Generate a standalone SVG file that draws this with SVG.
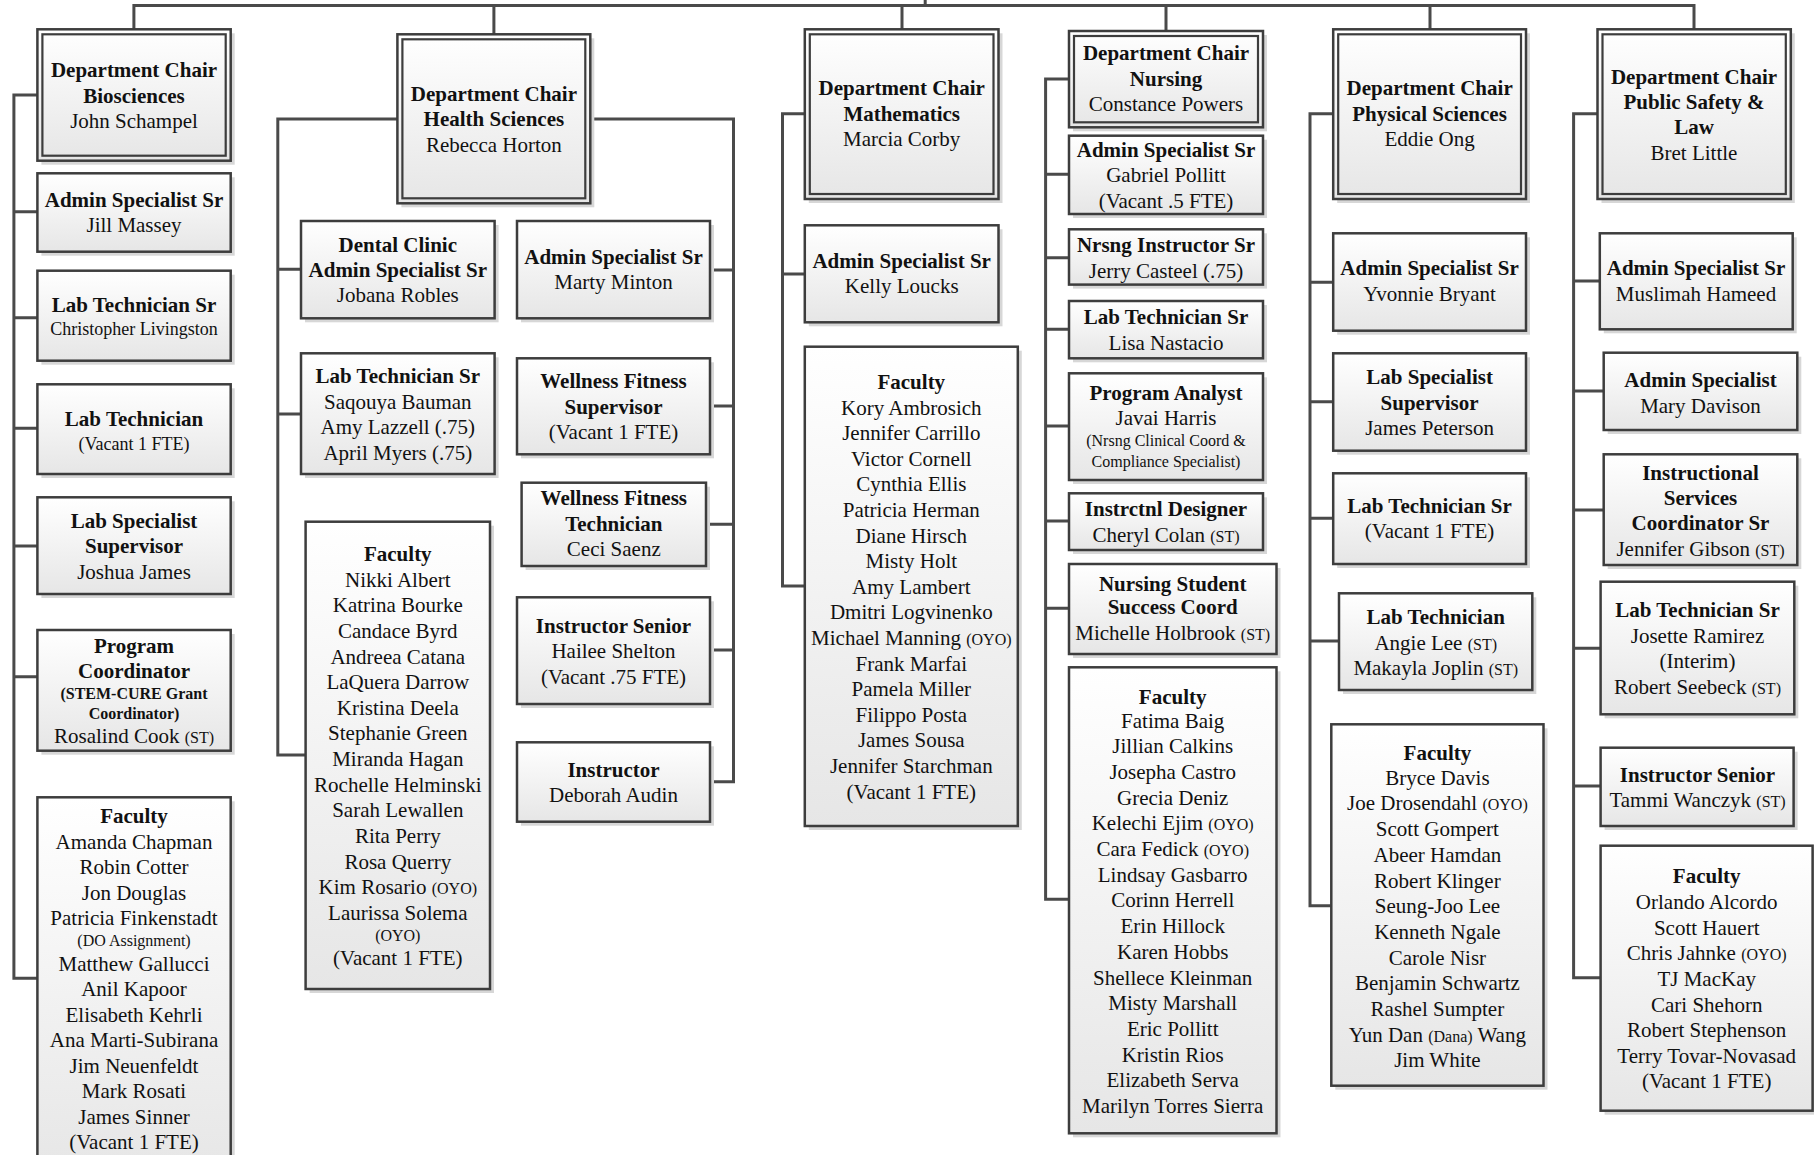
<svg xmlns="http://www.w3.org/2000/svg" width="1814" height="1155" viewBox="0 0 1814 1155">
<defs>
<linearGradient id="g" x1="0" y1="0" x2="0" y2="1">
<stop offset="0" stop-color="#ffffff"/>
<stop offset="1" stop-color="#e6e6e6"/>
</linearGradient>
</defs>
<style>
.sh{fill:#d7d7d7}
.box{fill:url(#g);stroke:#3d3d3d;stroke-width:2.5}
.in{fill:none;stroke:#3d3d3d;stroke-width:2.2}
.ln{fill:none;stroke:#4a4a4a;stroke-width:3;stroke-linejoin:miter}
text{font-family:"Liberation Serif","Times New Roman",serif;fill:#111111;text-anchor:middle;font-size:21px}
.b{font-weight:bold}
.m{font-size:18px}
.s{font-size:16px}
</style>
<rect width="1814" height="1155" fill="#ffffff"/>

<g id="connectors">
<path class="ln" d="M133.9,29.3V5.5H1694V29.3 M493.9,5.5V34.3 M902,5.5V29.3 M1166,5.5V31 M1430,5.5V29.3 M925.2,0V5.5"/>
<path class="ln" d="M37.4,95H13.9V978.3H37.4 M13.9,211.7H37.4 M13.9,317.7H37.4 M13.9,428.3H37.4 M13.9,546H37.4 M13.9,676.7H37.4"/>
<path class="ln" d="M397.4,119H277.8V755H305.6 M277.8,269.3H301 M277.8,414H301"/>
<path class="ln" d="M590.3,119H733.5V781.7H710 M733.5,270H710 M733.5,406H710 M733.5,524.3H706 M733.5,650H710"/>
<path class="ln" d="M804.8,113.7H782.5V586H804.8 M782.5,274H804.8"/>
<path class="ln" d="M1069,79H1045.6V899.3H1069 M1045.6,174.3H1069 M1045.6,257.7H1069 M1045.6,329.3H1069 M1045.6,426H1069 M1045.6,521H1069 M1045.6,608.3H1069"/>
<path class="ln" d="M1333.2,113.7H1310V905.7H1331.3 M1310,282.3H1333.2 M1310,401.7H1333.2 M1310,518.3H1333.2 M1310,641H1339"/>
<path class="ln" d="M1597.5,113.7H1573.6V977.7H1600.6 M1573.6,281H1599.8 M1573.6,391H1603.7 M1573.6,510H1603.7 M1573.6,648.3H1600.6 M1573.6,786H1600.6"/>
</g>

<!-- Biosciences -->
<g id="bio-chair">
<rect class="sh" x="41.4" y="33.3" width="193.3" height="131.4"/>
<rect class="box" x="37.4" y="29.3" width="193.3" height="131.4"/>
<rect class="in" x="42.4" y="34.3" width="183.3" height="121.4"/>
<text><tspan class="b" x="134" y="77">Department Chair</tspan><tspan class="b" x="134" y="102.5">Biosciences</tspan><tspan x="134" y="128">John Schampel</tspan></text>
</g>
<g id="bio-admin">
<rect class="sh" x="41.4" y="177.3" width="193.3" height="78.4"/>
<rect class="box" x="37.4" y="173.3" width="193.3" height="78.4"/>
<text><tspan class="b" x="134" y="206.5">Admin Specialist Sr</tspan><tspan x="134" y="232">Jill Massey</tspan></text>
</g>
<g id="bio-labtechsr">
<rect class="sh" x="41.4" y="274.7" width="193.3" height="90"/>
<rect class="box" x="37.4" y="270.7" width="193.3" height="90"/>
<text><tspan class="b" x="134" y="311.5">Lab Technician Sr</tspan><tspan class="m" x="134" y="335">Christopher Livingston</tspan></text>
</g>
<g id="bio-labtech">
<rect class="sh" x="41.4" y="388.3" width="193.3" height="89.7"/>
<rect class="box" x="37.4" y="384.3" width="193.3" height="89.7"/>
<text><tspan class="b" x="134" y="425.5">Lab Technician</tspan><tspan class="m" x="134" y="449.5">(Vacant 1 FTE)</tspan></text>
</g>
<g id="bio-labspec">
<rect class="sh" x="41.4" y="501.3" width="193.3" height="96.7"/>
<rect class="box" x="37.4" y="497.3" width="193.3" height="96.7"/>
<text><tspan class="b" x="134" y="527.5">Lab Specialist</tspan><tspan class="b" x="134" y="553">Supervisor</tspan><tspan x="134" y="578.5">Joshua James</tspan></text>
</g>
<g id="bio-progcoord">
<rect class="sh" x="41.4" y="634" width="193.3" height="120.7"/>
<rect class="box" x="37.4" y="630" width="193.3" height="120.7"/>
<text><tspan class="b" x="134" y="652.5">Program</tspan><tspan class="b" x="134" y="677.5">Coordinator</tspan><tspan class="b s" x="134" y="698.5">(STEM-CURE Grant</tspan><tspan class="b s" x="134" y="718.5">Coordinator)</tspan><tspan x="134" y="742.5">Rosalind Cook <tspan class="s">(ST)</tspan></tspan></text>
</g>
<g id="bio-faculty">
<rect class="sh" x="41.4" y="801.3" width="193.3" height="380"/>
<rect class="box" x="37.4" y="797.3" width="193.3" height="380"/>
<text><tspan class="b" x="134" y="823">Faculty</tspan><tspan x="134" y="848.5">Amanda Chapman</tspan><tspan x="134" y="874">Robin Cotter</tspan><tspan x="134" y="899.5">Jon Douglas</tspan><tspan x="134" y="925">Patricia Finkenstadt</tspan><tspan class="s" x="134" y="946">(DO Assignment)</tspan><tspan x="134" y="970.5">Matthew Gallucci</tspan><tspan x="134" y="996">Anil Kapoor</tspan><tspan x="134" y="1021.5">Elisabeth Kehrli</tspan><tspan x="134" y="1047">Ana Marti-Subirana</tspan><tspan x="134" y="1072.5">Jim Neuenfeldt</tspan><tspan x="134" y="1098">Mark Rosati</tspan><tspan x="134" y="1123.5">James Sinner</tspan><tspan x="134" y="1149">(Vacant 1 FTE)</tspan></text>
</g>

<!-- Health Sciences -->
<g id="hs-chair">
<rect class="sh" x="401.4" y="38.3" width="192.9" height="169"/>
<rect class="box" x="397.4" y="34.3" width="192.9" height="169"/>
<rect class="in" x="402.4" y="39.3" width="182.9" height="159"/>
<text><tspan class="b" x="493.9" y="100.5">Department Chair</tspan><tspan class="b" x="493.9" y="126">Health Sciences</tspan><tspan x="493.9" y="151.5">Rebecca Horton</tspan></text>
</g>
<g id="hs-dental">
<rect class="sh" x="305" y="225" width="193.6" height="97.3"/>
<rect class="box" x="301" y="221" width="193.6" height="97.3"/>
<text><tspan class="b" x="397.8" y="252">Dental Clinic</tspan><tspan class="b" x="397.8" y="277">Admin Specialist Sr</tspan><tspan x="397.8" y="301.5">Jobana Robles</tspan></text>
</g>
<g id="hs-labtechsr">
<rect class="sh" x="305" y="357.3" width="193.6" height="120.7"/>
<rect class="box" x="301" y="353.3" width="193.6" height="120.7"/>
<text><tspan class="b" x="397.8" y="383">Lab Technician Sr</tspan><tspan x="397.8" y="408.5">Saqouya Bauman</tspan><tspan x="397.8" y="434">Amy Lazzell (.75)</tspan><tspan x="397.8" y="459.5">April Myers (.75)</tspan></text>
</g>
<g id="hs-faculty">
<rect class="sh" x="309.6" y="525.7" width="184.4" height="467.3"/>
<rect class="box" x="305.6" y="521.7" width="184.4" height="467.3"/>
<text><tspan class="b" x="397.8" y="560.5">Faculty</tspan><tspan x="397.8" y="586.5">Nikki Albert</tspan><tspan x="397.8" y="612.2">Katrina Bourke</tspan><tspan x="397.8" y="637.8">Candace Byrd</tspan><tspan x="397.8" y="663.5">Andreea Catana</tspan><tspan x="397.8" y="689.1">LaQuera Darrow</tspan><tspan x="397.8" y="714.8">Kristina Deela</tspan><tspan x="397.8" y="740.4">Stephanie Green</tspan><tspan x="397.8" y="766">Miranda Hagan</tspan><tspan x="397.8" y="791.7">Rochelle Helminski</tspan><tspan x="397.8" y="817.3">Sarah Lewallen</tspan><tspan x="397.8" y="843">Rita Perry</tspan><tspan x="397.8" y="868.6">Rosa Querry</tspan><tspan x="397.8" y="894.3">Kim Rosario <tspan class="s">(OYO)</tspan></tspan><tspan x="397.8" y="920">Laurissa Solema</tspan><tspan class="s" x="397.8" y="941">(OYO)</tspan><tspan x="397.8" y="964.5">(Vacant 1 FTE)</tspan></text>
</g>
<g id="hs-admin">
<rect class="sh" x="521" y="225" width="193" height="97.3"/>
<rect class="box" x="517" y="221" width="193" height="97.3"/>
<text><tspan class="b" x="613.5" y="263.5">Admin Specialist Sr</tspan><tspan x="613.5" y="289">Marty Minton</tspan></text>
</g>
<g id="hs-wellsup">
<rect class="sh" x="521" y="362.3" width="193" height="96"/>
<rect class="box" x="517" y="358.3" width="193" height="96"/>
<text><tspan class="b" x="613.5" y="388">Wellness Fitness</tspan><tspan class="b" x="613.5" y="413.5">Supervisor</tspan><tspan x="613.5" y="439">(Vacant 1 FTE)</tspan></text>
</g>
<g id="hs-welltech">
<rect class="sh" x="525.6" y="486.7" width="184.4" height="83.3"/>
<rect class="box" x="521.6" y="482.7" width="184.4" height="83.3"/>
<text><tspan class="b" x="613.8" y="505">Wellness Fitness</tspan><tspan class="b" x="613.8" y="530.5">Technician</tspan><tspan x="613.8" y="556">Ceci Saenz</tspan></text>
</g>
<g id="hs-instsr">
<rect class="sh" x="521" y="601.3" width="193" height="106.7"/>
<rect class="box" x="517" y="597.3" width="193" height="106.7"/>
<text><tspan class="b" x="613.5" y="632.5">Instructor Senior</tspan><tspan x="613.5" y="658">Hailee Shelton</tspan><tspan x="613.5" y="684">(Vacant .75 FTE)</tspan></text>
</g>
<g id="hs-instr">
<rect class="sh" x="521" y="746.3" width="193" height="79.4"/>
<rect class="box" x="517" y="742.3" width="193" height="79.4"/>
<text><tspan class="b" x="613.5" y="777">Instructor</tspan><tspan x="613.5" y="802">Deborah Audin</tspan></text>
</g>

<!-- Mathematics -->
<g id="math-chair">
<rect class="sh" x="808.8" y="33.3" width="193.7" height="169.7"/>
<rect class="box" x="804.8" y="29.3" width="193.7" height="169.7"/>
<rect class="in" x="809.8" y="34.3" width="183.7" height="159.7"/>
<text><tspan class="b" x="901.7" y="95">Department Chair</tspan><tspan class="b" x="901.7" y="120.5">Mathematics</tspan><tspan x="901.7" y="146">Marcia Corby</tspan></text>
</g>
<g id="math-admin">
<rect class="sh" x="808.8" y="229.3" width="193.7" height="97"/>
<rect class="box" x="804.8" y="225.3" width="193.7" height="97"/>
<text><tspan class="b" x="901.7" y="267.5">Admin Specialist Sr</tspan><tspan x="901.7" y="293">Kelly Loucks</tspan></text>
</g>
<g id="math-faculty">
<rect class="sh" x="808.8" y="350.7" width="213" height="479.3"/>
<rect class="box" x="804.8" y="346.7" width="213" height="479.3"/>
<text><tspan class="b" x="911.3" y="388.5">Faculty</tspan><tspan x="911.3" y="414.5">Kory Ambrosich</tspan><tspan x="911.3" y="440">Jennifer Carrillo</tspan><tspan x="911.3" y="465.7">Victor Cornell</tspan><tspan x="911.3" y="491.3">Cynthia Ellis</tspan><tspan x="911.3" y="516.9">Patricia Herman</tspan><tspan x="911.3" y="542.5">Diane Hirsch</tspan><tspan x="911.3" y="568">Misty Holt</tspan><tspan x="911.3" y="593.7">Amy Lambert</tspan><tspan x="911.3" y="619.3">Dmitri Logvinenko</tspan><tspan x="911.3" y="645">Michael Manning <tspan class="s">(OYO)</tspan></tspan><tspan x="911.3" y="670.5">Frank Marfai</tspan><tspan x="911.3" y="696">Pamela Miller</tspan><tspan x="911.3" y="721.8">Filippo Posta</tspan><tspan x="911.3" y="747.4">James Sousa</tspan><tspan x="911.3" y="773">Jennifer Starchman</tspan><tspan x="911.3" y="798.6">(Vacant 1 FTE)</tspan></text>
</g>

<!-- Nursing -->
<g id="nur-chair">
<rect class="sh" x="1073" y="35" width="194" height="96.3"/>
<rect class="box" x="1069" y="31" width="194" height="96.3"/>
<rect class="in" x="1074" y="36" width="184" height="86.3"/>
<text><tspan class="b" x="1166" y="60">Department Chair</tspan><tspan class="b" x="1166" y="85.5">Nursing</tspan><tspan x="1166" y="111">Constance Powers</tspan></text>
</g>
<g id="nur-admin">
<rect class="sh" x="1073" y="139.7" width="194" height="78.3"/>
<rect class="box" x="1069" y="135.7" width="194" height="78.3"/>
<text><tspan class="b" x="1166" y="156.5">Admin Specialist Sr</tspan><tspan x="1166" y="182">Gabriel Pollitt</tspan><tspan x="1166" y="207.5">(Vacant .5 FTE)</tspan></text>
</g>
<g id="nur-instr">
<rect class="sh" x="1073" y="233.3" width="194" height="55.3"/>
<rect class="box" x="1069" y="229.3" width="194" height="55.3"/>
<text><tspan class="b" x="1166" y="251.5">Nrsng Instructor Sr</tspan><tspan x="1166" y="277.5">Jerry Casteel (.75)</tspan></text>
</g>
<g id="nur-labtech">
<rect class="sh" x="1073" y="305" width="194" height="57.3"/>
<rect class="box" x="1069" y="301" width="194" height="57.3"/>
<text><tspan class="b" x="1166" y="323.5">Lab Technician Sr</tspan><tspan x="1166" y="349.5">Lisa Nastacio</tspan></text>
</g>
<g id="nur-progan">
<rect class="sh" x="1073" y="377.3" width="194" height="106.7"/>
<rect class="box" x="1069" y="373.3" width="194" height="106.7"/>
<text><tspan class="b" x="1166" y="399.5">Program Analyst</tspan><tspan x="1166" y="425">Javai Harris</tspan><tspan class="s" x="1166" y="445.5">(Nrsng Clinical Coord &amp;</tspan><tspan class="s" x="1166" y="466.5">Compliance Specialist)</tspan></text>
</g>
<g id="nur-designer">
<rect class="sh" x="1073" y="497.3" width="194" height="56.7"/>
<rect class="box" x="1069" y="493.3" width="194" height="56.7"/>
<text><tspan class="b" x="1166" y="516">Instrctnl Designer</tspan><tspan x="1166" y="541.5">Cheryl Colan <tspan class="s">(ST)</tspan></tspan></text>
</g>
<g id="nur-nssc">
<rect class="sh" x="1073" y="568" width="207.5" height="90"/>
<rect class="box" x="1069" y="564" width="207.5" height="90"/>
<text><tspan class="b" x="1172.7" y="591">Nursing Student</tspan><tspan class="b" x="1172.7" y="614">Success Coord</tspan><tspan x="1172.7" y="639.5">Michelle Holbrook <tspan class="s">(ST)</tspan></tspan></text>
</g>
<g id="nur-faculty">
<rect class="sh" x="1073" y="671.3" width="207.5" height="466"/>
<rect class="box" x="1069" y="667.3" width="207.5" height="466"/>
<text><tspan class="b" x="1172.7" y="703.5">Faculty</tspan><tspan x="1172.7" y="727.5">Fatima Baig</tspan><tspan x="1172.7" y="753.2">Jillian Calkins</tspan><tspan x="1172.7" y="778.9">Josepha Castro</tspan><tspan x="1172.7" y="804.6">Grecia Deniz</tspan><tspan x="1172.7" y="830.3">Kelechi Ejim <tspan class="s">(OYO)</tspan></tspan><tspan x="1172.7" y="856">Cara Fedick <tspan class="s">(OYO)</tspan></tspan><tspan x="1172.7" y="881.7">Lindsay Gasbarro</tspan><tspan x="1172.7" y="907.4">Corinn Herrell</tspan><tspan x="1172.7" y="933.1">Erin Hillock</tspan><tspan x="1172.7" y="958.8">Karen Hobbs</tspan><tspan x="1172.7" y="984.5">Shellece Kleinman</tspan><tspan x="1172.7" y="1010.2">Misty Marshall</tspan><tspan x="1172.7" y="1035.9">Eric Pollitt</tspan><tspan x="1172.7" y="1061.6">Kristin Rios</tspan><tspan x="1172.7" y="1087.3">Elizabeth Serva</tspan><tspan x="1172.7" y="1113">Marilyn Torres Sierra</tspan></text>
</g>

<!-- Physical Sciences -->
<g id="ps-chair">
<rect class="sh" x="1337.2" y="33.3" width="192.8" height="169.7"/>
<rect class="box" x="1333.2" y="29.3" width="192.8" height="169.7"/>
<rect class="in" x="1338.2" y="34.3" width="182.8" height="159.7"/>
<text><tspan class="b" x="1429.6" y="95">Department Chair</tspan><tspan class="b" x="1429.6" y="120.5">Physical Sciences</tspan><tspan x="1429.6" y="146">Eddie Ong</tspan></text>
</g>
<g id="ps-admin">
<rect class="sh" x="1337.2" y="237.3" width="192.8" height="97.4"/>
<rect class="box" x="1333.2" y="233.3" width="192.8" height="97.4"/>
<text><tspan class="b" x="1429.6" y="275">Admin Specialist Sr</tspan><tspan x="1429.6" y="301">Yvonnie Bryant</tspan></text>
</g>
<g id="ps-labspec">
<rect class="sh" x="1337.2" y="357.3" width="192.8" height="97.4"/>
<rect class="box" x="1333.2" y="353.3" width="192.8" height="97.4"/>
<text><tspan class="b" x="1429.6" y="384">Lab Specialist</tspan><tspan class="b" x="1429.6" y="409.5">Supervisor</tspan><tspan x="1429.6" y="435">James Peterson</tspan></text>
</g>
<g id="ps-labtechsr">
<rect class="sh" x="1337.2" y="477.3" width="192.8" height="90.7"/>
<rect class="box" x="1333.2" y="473.3" width="192.8" height="90.7"/>
<text><tspan class="b" x="1429.6" y="512.5">Lab Technician Sr</tspan><tspan x="1429.6" y="538">(Vacant 1 FTE)</tspan></text>
</g>
<g id="ps-labtech">
<rect class="sh" x="1343" y="597.3" width="193.3" height="96.7"/>
<rect class="box" x="1339" y="593.3" width="193.3" height="96.7"/>
<text><tspan class="b" x="1435.7" y="624">Lab Technician</tspan><tspan x="1435.7" y="649.5">Angie Lee <tspan class="s">(ST)</tspan></tspan><tspan x="1435.7" y="675">Makayla Joplin <tspan class="s">(ST)</tspan></tspan></text>
</g>
<g id="ps-faculty">
<rect class="sh" x="1335.3" y="728.3" width="212.2" height="361.4"/>
<rect class="box" x="1331.3" y="724.3" width="212.2" height="361.4"/>
<text><tspan class="b" x="1437.4" y="760">Faculty</tspan><tspan x="1437.4" y="784.5">Bryce Davis</tspan><tspan x="1437.4" y="810">Joe Drosendahl <tspan class="s">(OYO)</tspan></tspan><tspan x="1437.4" y="836">Scott Gompert</tspan><tspan x="1437.4" y="861.5">Abeer Hamdan</tspan><tspan x="1437.4" y="887.5">Robert Klinger</tspan><tspan x="1437.4" y="913">Seung-Joo Lee</tspan><tspan x="1437.4" y="939">Kenneth Ngale</tspan><tspan x="1437.4" y="964.5">Carole Nisr</tspan><tspan x="1437.4" y="990">Benjamin Schwartz</tspan><tspan x="1437.4" y="1016">Rashel Sumpter</tspan><tspan x="1437.4" y="1041.5">Yun Dan <tspan class="s">(Dana)</tspan> Wang</tspan><tspan x="1437.4" y="1067">Jim White</tspan></text>
</g>

<!-- Public Safety & Law -->
<g id="psl-chair">
<rect class="sh" x="1601.5" y="33.3" width="193.3" height="169.7"/>
<rect class="box" x="1597.5" y="29.3" width="193.3" height="169.7"/>
<rect class="in" x="1602.5" y="34.3" width="183.3" height="159.7"/>
<text><tspan class="b" x="1694" y="83.5">Department Chair</tspan><tspan class="b" x="1694" y="108.5">Public Safety &amp;</tspan><tspan class="b" x="1694" y="134">Law</tspan><tspan x="1694" y="159.5">Bret Little</tspan></text>
</g>
<g id="psl-admin">
<rect class="sh" x="1603.8" y="237.3" width="192.9" height="96"/>
<rect class="box" x="1599.8" y="233.3" width="192.9" height="96"/>
<text><tspan class="b" x="1696" y="275">Admin Specialist Sr</tspan><tspan x="1696" y="300.5">Muslimah Hameed</tspan></text>
</g>
<g id="psl-admin2">
<rect class="sh" x="1607.7" y="356.7" width="193.6" height="77.3"/>
<rect class="box" x="1603.7" y="352.7" width="193.6" height="77.3"/>
<text><tspan class="b" x="1700.5" y="386.5">Admin Specialist</tspan><tspan x="1700.5" y="412.5">Mary Davison</tspan></text>
</g>
<g id="psl-isc">
<rect class="sh" x="1607.7" y="458.3" width="193.6" height="110.7"/>
<rect class="box" x="1603.7" y="454.3" width="193.6" height="110.7"/>
<text><tspan class="b" x="1700.5" y="479.5">Instructional</tspan><tspan class="b" x="1700.5" y="505">Services</tspan><tspan class="b" x="1700.5" y="530">Coordinator Sr</tspan><tspan x="1700.5" y="555.5">Jennifer Gibson <tspan class="s">(ST)</tspan></tspan></text>
</g>
<g id="psl-labtechsr">
<rect class="sh" x="1604.6" y="585.7" width="193.7" height="132.6"/>
<rect class="box" x="1600.6" y="581.7" width="193.7" height="132.6"/>
<text><tspan class="b" x="1697.5" y="616.5">Lab Technician Sr</tspan><tspan x="1697.5" y="642.5">Josette Ramirez</tspan><tspan x="1697.5" y="668">(Interim)</tspan><tspan x="1697.5" y="693.5">Robert Seebeck <tspan class="s">(ST)</tspan></tspan></text>
</g>
<g id="psl-instsr">
<rect class="sh" x="1604.6" y="751.7" width="193" height="78.3"/>
<rect class="box" x="1600.6" y="747.7" width="193" height="78.3"/>
<text><tspan class="b" x="1697.5" y="781.5">Instructor Senior</tspan><tspan x="1697.5" y="806.5">Tammi Wanczyk <tspan class="s">(ST)</tspan></tspan></text>
</g>
<g id="psl-faculty">
<rect class="sh" x="1604.6" y="849.7" width="212" height="265"/>
<rect class="box" x="1600.6" y="845.7" width="212" height="265"/>
<text><tspan class="b" x="1706.7" y="883">Faculty</tspan><tspan x="1706.7" y="908.5">Orlando Alcordo</tspan><tspan x="1706.7" y="934.5">Scott Hauert</tspan><tspan x="1706.7" y="960">Chris Jahnke <tspan class="s">(OYO)</tspan></tspan><tspan x="1706.7" y="985.7">TJ MacKay</tspan><tspan x="1706.7" y="1011.5">Cari Shehorn</tspan><tspan x="1706.7" y="1037">Robert Stephenson</tspan><tspan x="1706.7" y="1062.5">Terry Tovar-Novasad</tspan><tspan x="1706.7" y="1088">(Vacant 1 FTE)</tspan></text>
</g>
</svg>
